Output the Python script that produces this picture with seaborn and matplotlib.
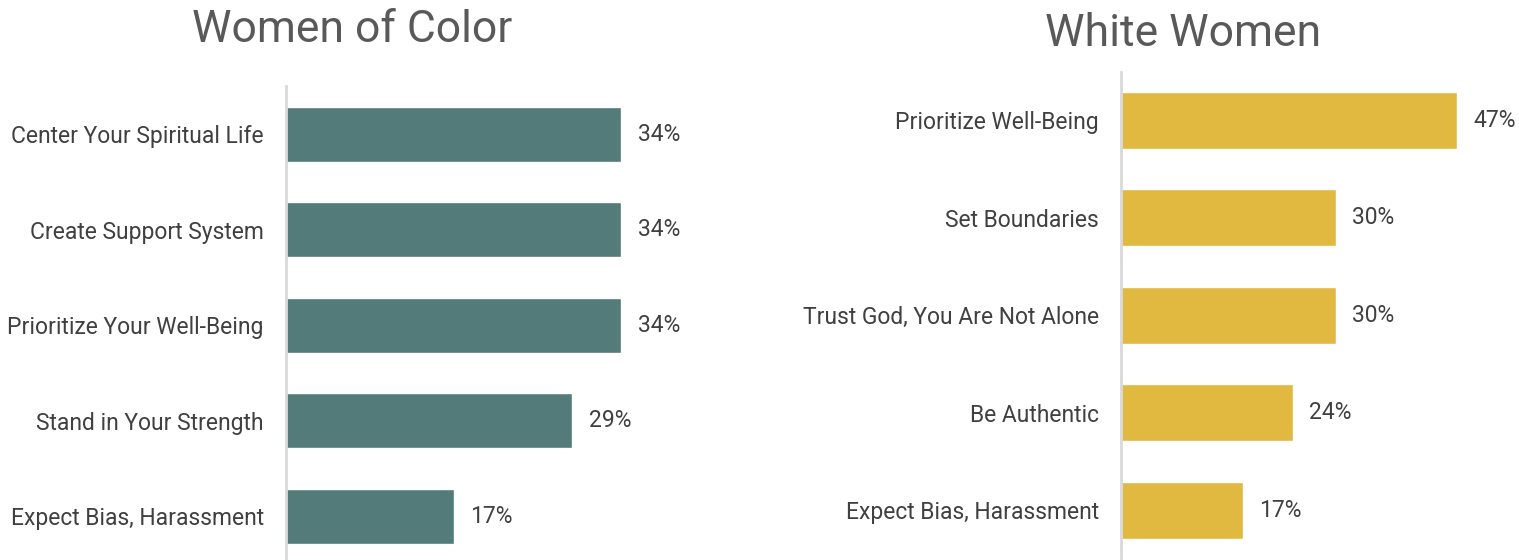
import matplotlib
matplotlib.use("Agg")
import matplotlib.pyplot as plt
import seaborn as sns
import pandas as pd

# Survey results: advice offered, by group (percent of respondents)
woc_categories = [
    "Center Your Spiritual Life",
    "Create Support System",
    "Prioritize Your Well-Being",
    "Stand in Your Strength",
    "Expect Bias, Harassment",
]
woc_values = [34, 34, 34, 29, 17]

white_categories = [
    "Prioritize Well-Being",
    "Set Boundaries",
    "Trust God, You Are Not Alone",
    "Be Authentic",
    "Expect Bias, Harassment",
]
white_values = [47, 30, 30, 24, 17]

woc_title = "Women of Color"
white_title = "White Women"

TEAL = "#527B79"
GOLD = "#E1B941"
LABEL_FONT = ["Roboto", "DejaVu Sans"]
TITLE_FONT = ["Roboto", "DejaVu Sans"]

sns.set_theme(style="white")
plt.rcParams["font.family"] = LABEL_FONT

fig = plt.figure(figsize=(15.19, 5.60), dpi=100)
ax_left = fig.add_axes([0.1883, -0.0071, 0.2726, 0.8527])
ax_right = fig.add_axes([0.7380, 0.0018, 0.2495, 0.8705])


def draw_panel(ax, cats, vals, color, xmax):
    df = pd.DataFrame({"category": cats, "value": vals})
    sns.barplot(data=df, x="value", y="category", orient="h", color=color,
                width=0.58, saturation=1, ax=ax)
    ax.set_xlim(0, xmax)
    ax.set_ylim(len(cats) - 0.5, -0.5)
    ax.set_xlabel("")
    ax.set_ylabel("")
    ax.set_xticks([])
    for side in ("top", "right", "bottom"):
        ax.spines[side].set_visible(False)
    ax.spines["left"].set_color("#D9D9D9")
    ax.spines["left"].set_linewidth(2)
    ax.tick_params(axis="y", length=0, pad=16, labelsize=16.5, labelcolor="#404040")
    for lbl in ax.get_yticklabels():
        lbl.set_fontfamily(LABEL_FONT)
    for container in ax.containers:
        ax.bar_label(container, labels=[f"{v}%" for v in vals], padding=12,
                     fontsize=16.5, color="#404040", family=LABEL_FONT)


draw_panel(ax_left, woc_categories, woc_values, TEAL, 42)
draw_panel(ax_right, white_categories, white_values, GOLD, 53)

fig.text(0.2318, 0.947, woc_title, ha="center", va="center", fontsize=32,
         color="#595959", family=TITLE_FONT)
fig.text(0.7788, 0.940, white_title, ha="center", va="center", fontsize=32,
         color="#595959", family=TITLE_FONT)

fig.savefig("out.png", dpi=100, facecolor="white")
